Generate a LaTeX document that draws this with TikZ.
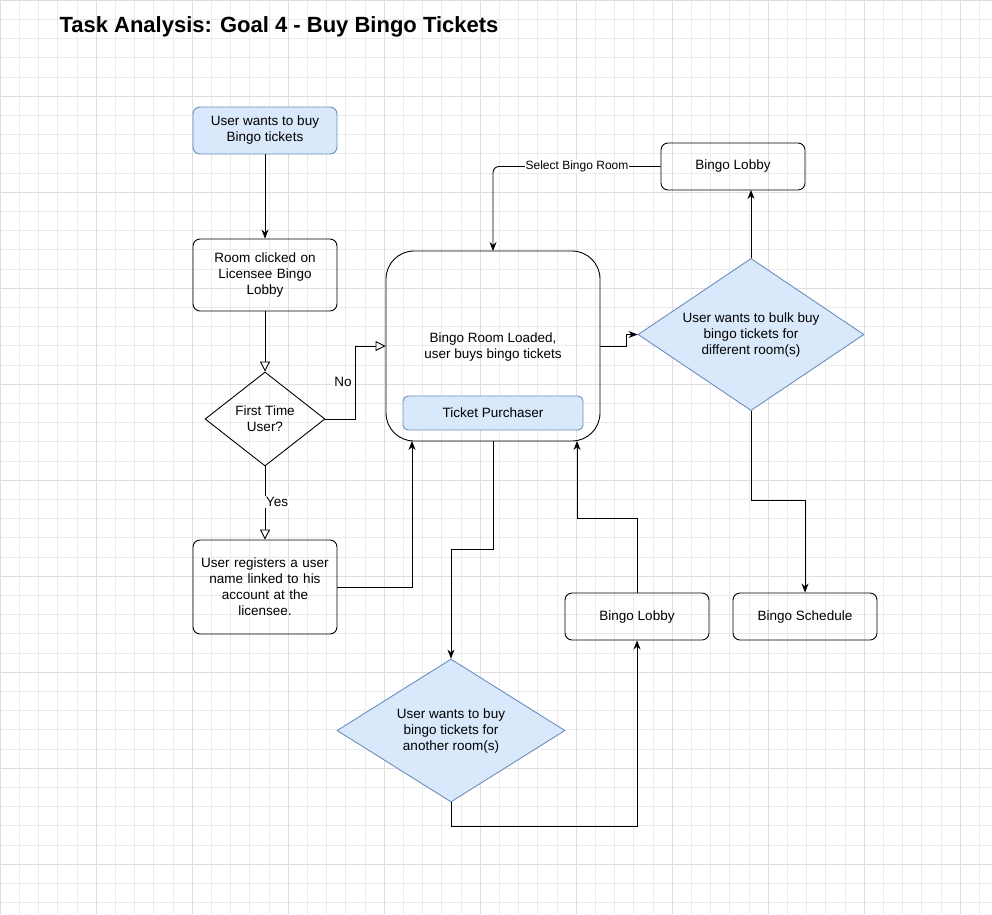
\documentclass[tikz,border=0pt]{standalone}
\usepackage{fontspec}
\setmainfont{Liberation Sans}
\usetikzlibrary{shapes.geometric,arrows.meta}
\definecolor{bfill}{HTML}{DAE8FC}\definecolor{bline}{HTML}{6C8EBF}
\begin{document}
\begin{tikzpicture}[x=1pt,y=-1pt,font=\fontsize{13.5}{16}\selectfont,
 box/.style={draw,rounded corners=7,line width=0.9pt,align=center,inner sep=2pt},
 dia/.style={draw,diamond,aspect=1.27,line width=0.9pt,align=center,inner sep=0pt},
 ar/.style={line width=0.9pt,-{Stealth[length=9,width=7]}},
 oar/.style={line width=0.9pt,-{Triangle[open,length=10,width=10]}}]
\useasboundingbox (0,0) rectangle (992,914);
\fill[white] (0,0) rectangle (992,914);
\begin{scope}
\clip (0,0) rectangle (992,914);
\foreach \i in {0,...,51} {\draw[black!8,line width=0.4pt] (\i*19.2,0) -- (\i*19.2,914); \draw[black!8,line width=0.4pt] (0,\i*19.2) -- (992,\i*19.2);}
\foreach \i in {0,...,10} {\draw[black!13,line width=0.5pt] (\i*96,0) -- (\i*96,914); \draw[black!13,line width=0.5pt] (0,\i*96) -- (992,\i*96);}
\end{scope}
\node[anchor=base west,font=\bfseries\fontsize{22}{25}\selectfont] (t) at (56,32) {Task Analysis: Goal 4 - Buy Bingo Tickets};
\node[box,fill=bfill,draw=bline,minimum width=144,minimum height=47] (s) at (265,130.5) {User wants to buy\\Bingo tickets};
\node[box,minimum width=144,minimum height=72,text width=130] (rc) at (265,275) {Room clicked on\\Licensee Bingo\\Lobby};
\node[dia,minimum width=120,minimum height=94] (ft) at (265,419) {First Time\\User?};
\node[box,minimum width=144,minimum height=94,text width=140] (rg) at (265,587) {User registers a user\\name linked to his\\account at the\\licensee.};
\node[box,rounded corners=28,minimum width=214,minimum height=190] (br) at (493,346) {};
\node[align=center] (brt) at (493,347) {Bingo Room Loaded,\\user buys bingo tickets};
\node[box,fill=bfill,draw=bline,rounded corners=5,minimum width=180,minimum height=34] (tp) at (493,413) {Ticket Purchaser};
\node[dia,fill=bfill,draw=bline,minimum width=226,minimum height=143] (bk) at (751,334.5) {User wants to bulk buy\\bingo tickets for\\different room(s)};
\node[box,minimum width=144,minimum height=47] (l1) at (733,166.5) {Bingo Lobby};
\node[box,minimum width=144,minimum height=47] (l2) at (637,616.5) {Bingo Lobby};
\node[box,minimum width=144,minimum height=47] (sc) at (805,616.5) {Bingo Schedule};
\node[dia,fill=bfill,draw=bline,minimum width=228,minimum height=143] (an) at (451,730.5) {User wants to buy\\bingo tickets for\\another room(s)};
\draw[ar] (s) -- (rc);
\draw[oar] (rc) -- (ft);
\draw[oar] (ft.east) -- (355,419) -- (355,346) -- (br.west);
\node[fill=white,inner sep=1pt] (no) at (343,382) {No};
\draw[oar] (ft.south) -- (rg.north);
\node[fill=white,inner sep=1pt] (ye) at (277,502) {Yes};
\draw[ar] (rg.east) -- (412,587) -- (412,441);
\draw[ar] (br.east) -- (626,346) -- (626,334.5) -- (bk.west);
\draw[ar] (bk.north) -- (751,190);
\draw[ar] (bk.south) -- (751,500) -- (805,500) -- (sc.north);
\draw[ar,rounded corners=6] (l1.west) -- (493,166.5) -- (493,251);
\node[fill=white,inner sep=1pt] (sl) at (577,166.5) {\fontsize{12}{14}\selectfont Select Bingo Room};
\draw[ar] (493,441) -- (493,549) -- (451,549) -- (an.north);
\draw[ar] (an.south) -- (451,826) -- (637,826) -- (l2.south);
\draw[ar] (l2.north) -- (637,518) -- (577,518) -- (577,441);
\end{tikzpicture}
\end{document}
